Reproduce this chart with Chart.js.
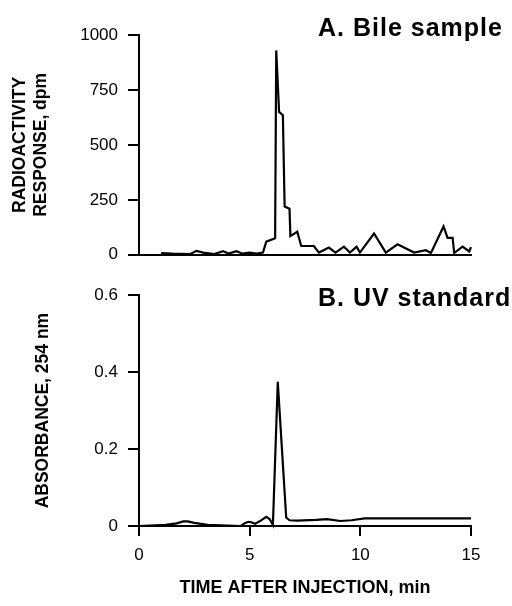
<!DOCTYPE html>
<html>
<head>
<meta charset="utf-8">
<script src="https://cdn.jsdelivr.net/npm/chart.js@4.4.1/dist/chart.umd.min.js"></script>
<style>
  html, body { margin: 0; padding: 0; background: #fff; }
  #wrap { position: relative; width: 512px; height: 606px; }
  #top-box { position: absolute; left: 0; top: 0; }
  #bottom-box { position: absolute; left: 0; top: 275px; }
</style>
</head>
<body>
<div id="wrap">
  <div id="top-box"><canvas id="bile-chart" width="512" height="275"></canvas></div>
  <div id="bottom-box"><canvas id="uv-chart" width="512" height="331"></canvas></div>
</div>
<script>
// A. Bile sample - radioactivity trace
const timeA = [1.0, 1.5, 2.3, 2.6, 2.9, 3.4, 3.8, 4.05, 4.4, 4.65, 5.0, 5.3, 5.6, 5.75, 6.15,
  6.2, 6.33, 6.5, 6.58, 6.8, 6.84, 7.15, 7.33, 7.9, 8.13, 8.58, 8.88, 9.26, 9.53, 9.83,
  9.98, 10.62, 11.15, 11.68, 12.43, 12.96, 13.19, 13.76, 13.94, 14.17, 14.24, 14.62, 14.92, 15.0];
const countsA = [8, 5, 3, 18, 10, 3, 16, 6, 16, 6, 10, 6, 10, 60, 75,
  930, 650, 635, 220, 210, 85, 105, 40, 40, 10, 33, 10, 37, 10, 37,
  10, 97, 10, 48, 10, 21, 8, 129, 77, 77, 8, 37, 15, 35];

// B. UV standard - absorbance trace
const timeB = [0, 1.2, 1.7, 2.0, 2.2, 2.5, 3.1, 4.6, 4.8, 4.95, 5.1, 5.25, 5.5, 5.75, 5.9,
  6.05, 6.27, 6.65, 6.8, 7.15, 8.0, 8.5, 9.1, 9.6, 10.2, 15];
const absB = [0, 0.003, 0.007, 0.012, 0.012, 0.008, 0.003, 0, 0.008, 0.011, 0.009, 0.006, 0.014, 0.024, 0.018,
  0.003, 0.375, 0.022, 0.015, 0.014, 0.016, 0.018, 0.013, 0.015, 0.02, 0.02];

// tick labels
const xTicks = [0, 5, 10, 15];
const yTicksA = [0, 250, 500, 750, 1000];
const yTicksB = [0, 0.2, 0.4, 0.6];

const FONT = "'Liberation Sans', Arial, Helvetica, sans-serif";

// panel label ("A. Bile sample") written onto the canvas
const panelLabel = {
  id: 'panelLabel',
  afterDraw(chart, args, opts) {
    const ctx = chart.ctx;
    ctx.save();
    ctx.font = 'bold 25px ' + FONT;
    ctx.letterSpacing = '1px';
    ctx.fillStyle = '#000';
    ctx.textAlign = 'left';
    ctx.textBaseline = 'alphabetic';
    ctx.fillText(opts.text, opts.x, opts.y);
    ctx.restore();
  }
};

function toPoints(xs, ys) {
  return xs.map((x, i) => ({ x: x, y: ys[i] }));
}

const tickFont = { family: FONT, size: 17 };
const titleFont = { family: FONT, size: 17.5, weight: 'bold', lineHeight: 1.2 };

// top panel
new Chart(document.getElementById('bile-chart'), {
  type: 'line',
  data: {
    datasets: [{
      data: toPoints(timeA, countsA),
      borderColor: '#000',
      borderWidth: 2.2,
      pointRadius: 0,
      tension: 0,
      fill: false,
      clip: 4
    }]
  },
  options: {
    responsive: false,
    animation: false,
    layout: { padding: { top: 35, right: 41, bottom: 0, left: 0 } },
    plugins: {
      legend: { display: false },
      tooltip: { enabled: false },
      panelLabel: { text: 'A. Bile sample', x: 318, y: 36 }
    },
    scales: {
      x: {
        type: 'linear',
        min: 0,
        max: 15,
        grid: { display: false },
        border: { color: '#000', width: 2 },
        ticks: { display: false },
        afterFit: s => { s.height = 16; }
      },
      y: {
        min: 0,
        max: 1000,
        afterBuildTicks: s => { s.ticks = yTicksA.map(v => ({ value: v })); },
        grid: { drawOnChartArea: false, color: '#000', lineWidth: 2, tickLength: 11 },
        border: { color: '#000', width: 2 },
        ticks: { color: '#000', font: tickFont, padding: 10, callback: v => String(v) },
        title: {
          display: true,
          text: ['RADIOACTIVITY', 'RESPONSE, dpm'],
          color: '#000',
          font: titleFont,
          padding: { top: 10, bottom: 0 }
        },
        afterFit: s => { s.width = 139; }
      }
    }
  },
  plugins: [panelLabel]
});

// bottom panel
new Chart(document.getElementById('uv-chart'), {
  type: 'line',
  data: {
    datasets: [{
      data: toPoints(timeB, absB),
      borderColor: '#000',
      borderWidth: 2.2,
      pointRadius: 0,
      tension: 0,
      fill: false,
      clip: 4
    }]
  },
  options: {
    responsive: false,
    animation: false,
    layout: { padding: { top: 16, right: 41, bottom: 7, left: 0 } },
    plugins: {
      legend: { display: false },
      tooltip: { enabled: false },
      panelLabel: { text: 'B. UV standard', x: 318, y: 31 }
    },
    scales: {
      x: {
        type: 'linear',
        min: 0,
        max: 15,
        afterBuildTicks: s => { s.ticks = xTicks.map(v => ({ value: v })); },
        grid: { drawOnChartArea: false, color: '#000', lineWidth: 2, tickLength: 10 },
        border: { color: '#000', width: 2 },
        ticks: { color: '#000', font: tickFont, padding: 9, maxRotation: 0 },
        title: {
          display: true,
          text: 'TIME AFTER INJECTION, min',
          color: '#000',
          font: { family: FONT, size: 18, weight: 'bold', lineHeight: 1.2 },
          padding: 0
        },
        afterFit: s => { s.height = 73; }
      },
      y: {
        min: 0,
        max: 0.6,
        afterBuildTicks: s => { s.ticks = yTicksB.map(v => ({ value: v })); },
        grid: { drawOnChartArea: false, color: '#000', lineWidth: 2, tickLength: 11 },
        border: { color: '#000', width: 2 },
        ticks: {
          color: '#000',
          font: tickFont,
          padding: 10,
          callback: v => v === 0 ? '0' : v.toFixed(1)
        },
        title: {
          display: true,
          text: 'ABSORBANCE, 254 nm',
          color: '#000',
          font: titleFont,
          padding: { top: 33, bottom: 0 }
        },
        afterFit: s => { s.width = 139; }
      }
    }
  },
  plugins: [panelLabel]
});
</script>
</body>
</html>
